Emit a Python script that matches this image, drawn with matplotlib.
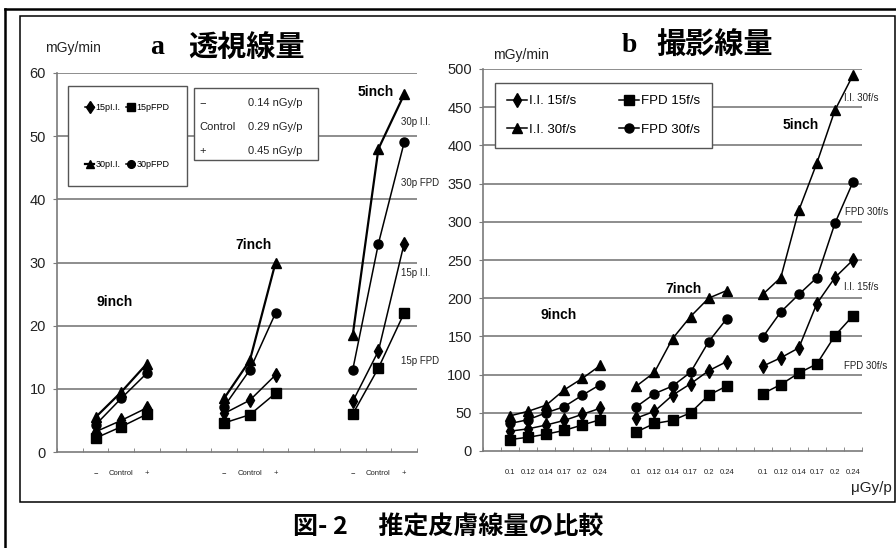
import matplotlib
matplotlib.use("Agg")
import matplotlib.pyplot as plt
from matplotlib import font_manager
from matplotlib.patches import Rectangle
from matplotlib.lines import Line2D

# ---------------- data ----------------
pa_groups = ['9inch', '7inch', '5inch']
pa_xlabels = ['−', 'Control', '+']
pa_15p_ii = [3.2, 5.0, 7.0, 6.1, 8.2, 12.2, 8.0, 16.0, 33.0]
pa_15p_fpd = [2.2, 4.0, 6.0, 4.6, 5.9, 9.3, 6.0, 13.3, 22.0]
pa_30p_ii = [5.5, 9.5, 14.0, 8.5, 14.5, 30.0, 18.5, 48.0, 56.6]
pa_30p_fpd = [4.3, 8.5, 12.5, 7.2, 13.0, 22.0, 13.0, 33.0, 49.0]
pa_yticks = [0, 10, 20, 30, 40, 50, 60]

pb_groups = ['9inch', '7inch', '5inch']
pb_xlabels = ['0.1', '0.12', '0.14', '0.17', '0.2', '0.24']
pb_ii15 = [26, 29, 34, 40, 48, 56, 43, 52, 73, 88, 105, 117, 111, 122, 135, 193, 227, 250]
pb_fpd15 = [15, 18, 22, 27, 34, 41, 25, 36, 40, 50, 73, 85, 75, 87, 102, 114, 151, 177]
pb_ii30 = [46, 52, 60, 80, 95, 112, 85, 103, 147, 176, 200, 210, 205, 227, 315, 377, 446, 492]
pb_fpd30 = [36, 41, 50, 58, 73, 87, 58, 75, 85, 103, 143, 173, 149, 182, 205, 227, 298, 352]
pb_yticks = [0, 50, 100, 150, 200, 250, 300, 350, 400, 450, 500]

# ---------------- fonts ----------------
names = {f.name for f in font_manager.fontManager.ttflist}
NARROW = 'Liberation Sans Narrow' if 'Liberation Sans Narrow' in names else 'Liberation Sans'
SANS = 'Liberation Sans'
CJK = ['Noto Sans CJK JP', 'DejaVu Sans']

W, H = 896, 548
fig = plt.figure(figsize=(W / 100, H / 100), dpi=100)
fig.patch.set_facecolor('white')


def fx(px):
    return px / W


def fy(py):
    return 1 - py / H


def make_axes(l, r, t, b):
    return fig.add_axes([fx(l), fy(b), fx(r) - fx(l), fy(t) - fy(b)])


GRID = '#7a7a7a'
TXT = '#222222'


def style_axes(ax, ncat, positions, labels, yticks, ymax):
    ax.set_xlim(-0.5, ncat - 0.5)
    ax.set_ylim(0, ymax)
    for s in ['top', 'right']:
        ax.spines[s].set_visible(False)
    for s in ['left', 'bottom']:
        ax.spines[s].set_color(GRID)
        ax.spines[s].set_linewidth(1.2)
    ax.set_yticks(yticks)
    ax.set_yticklabels([str(v) for v in yticks], fontfamily=NARROW, fontsize=10.5, color=TXT)
    ax.tick_params(axis='y', direction='out', length=3, color=GRID, pad=5)
    for v in yticks[1:]:
        ax.axhline(v, color=GRID, lw=1.2, zorder=1)
    ax.set_xticks(positions)
    ax.set_xticklabels(labels, fontfamily=NARROW, fontsize=5.5, color=TXT)
    ax.tick_params(axis='x', which='major', length=0, pad=13)
    ax.set_xticks([i - 0.5 for i in range(ncat + 1)], minor=True)
    ax.tick_params(axis='x', which='minor', direction='in', length=3, color=GRID)


# ---------------- frames ----------------
fig.add_artist(Line2D([fx(5), fx(5)], [fy(9), 0], color='black', lw=1.8))
fig.add_artist(Line2D([fx(5), 1], [fy(9), fy(9)], color='black', lw=1.8))
fig.add_artist(Rectangle((fx(20), fy(502)), fx(895) - fx(20), fy(16) - fy(502),
                         fill=False, edgecolor='black', lw=1.1))

# ---------------- panel a ----------------
axa = make_axes(57, 417, 73, 452)
pa_pos = [g * 5 + 1 + k for g in range(len(pa_groups)) for k in range(len(pa_xlabels))]
style_axes(axa, 14, pa_pos, pa_xlabels * len(pa_groups), pa_yticks, 60)

series_a = [
    (pa_15p_ii, 'd', '15pI.I.', 1.1),
    (pa_30p_ii, '^', '30pI.I.', 1.6),
    (pa_15p_fpd, 's', '15pFPD', 1.1),
    (pa_30p_fpd, 'o', '30pFPD', 1.1),
]
handles_a = []
for vals, mk, lab, lw in series_a:
    h = None
    for g in range(len(pa_groups)):
        sl = slice(g * 3, g * 3 + 3)
        h, = axa.plot(pa_pos[sl], vals[sl], color='black', marker=mk, ms=6.5 if mk != 'd' else 7,
                      lw=lw, zorder=3, label=lab)
    handles_a.append(h)

leg = axa.legend(handles=handles_a, ncol=2, loc='upper left', bbox_to_anchor=(0.031, 0.966),
                 frameon=True, fancybox=False, edgecolor='#555555', framealpha=1,
                 prop={'family': NARROW, 'size': 6.5}, handlelength=1.0, handletextpad=0.15,
                 labelspacing=5.3, borderpad=1.9, columnspacing=0.6, borderaxespad=0,
                 markerscale=0.85)
leg.get_frame().set_linewidth(1.0)
leg.set_zorder(5)

axa.add_patch(Rectangle((0.381, 0.770), 0.344, 0.190, transform=axa.transAxes,
                        facecolor='white', edgecolor='#555555', lw=1.0, zorder=5))
ctrl_left = ['−', 'Control', '+']
ctrl_right = ['0.14 nGy/p', '0.29 nGy/p', '0.45 nGy/p']
for i, (lt, rt) in enumerate(zip(ctrl_left, ctrl_right)):
    yy = (452 - (103 + 24 * i)) / 379
    axa.text(0.395, yy, lt, transform=axa.transAxes, fontfamily=NARROW, fontsize=8,
             color=TXT, va='center', ha='left', zorder=6)
    axa.text(0.53, yy, rt, transform=axa.transAxes, fontfamily=NARROW, fontsize=8,
             color=TXT, va='center', ha='left', zorder=6)

# annotations panel a (pixel positions)
fig.text(fx(115), fy(302), '9inch', fontfamily=SANS, fontweight='bold', fontsize=10,
         ha='center', va='center')
fig.text(fx(253), fy(245), '7inch', fontfamily=SANS, fontweight='bold', fontsize=10,
         ha='center', va='center')
fig.text(fx(376), fy(92), '5inch', fontfamily=SANS, fontweight='bold', fontsize=10,
         ha='center', va='center')
for txt, px, py in [('30p I.I.', 401, 122), ('30p FPD', 401, 183),
                    ('15p I.I.', 401, 273), ('15p FPD', 401, 361)]:
    fig.text(fx(px), fy(py), txt, fontfamily=NARROW, fontsize=7, ha='left', va='center',
             color=TXT)

fig.text(fx(45), fy(48), 'mGy/min', fontfamily=NARROW, fontsize=10, ha='left', va='center',
         color=TXT)
fig.text(fx(150), fy(47), 'a', fontfamily='Liberation Serif', fontweight='bold', fontsize=20,
         ha='left', va='center')
fig.text(fx(188), fy(47), '透視線量', fontfamily=CJK, fontweight='bold', fontsize=21,
         ha='left', va='center')

# ---------------- panel b ----------------
axb = make_axes(483, 862, 69, 451)
pb_pos = [g * 7 + 1 + k for g in range(len(pb_groups)) for k in range(len(pb_xlabels))]
style_axes(axb, 21, pb_pos, pb_xlabels * len(pb_groups), pb_yticks, 500)

series_b = [
    (pb_ii15, 'd', 'I.I. 15f/s'),
    (pb_ii30, '^', 'I.I. 30f/s'),
    (pb_fpd15, 's', 'FPD 15f/s'),
    (pb_fpd30, 'o', 'FPD 30f/s'),
]
handles_b = []
for vals, mk, lab in series_b:
    h = None
    for g in range(len(pb_groups)):
        sl = slice(g * 6, g * 6 + 6)
        h, = axb.plot(pb_pos[sl], vals[sl], color='black', marker=mk, ms=6.5 if mk != 'd' else 7,
                      lw=1.1, zorder=3, label=lab)
    handles_b.append(h)

legb = axb.legend(handles=handles_b, ncol=2, loc='upper left', bbox_to_anchor=(0.032, 0.963),
                  frameon=True, fancybox=False, edgecolor='#555555', framealpha=1,
                  prop={'family': NARROW, 'size': 9.5}, handlelength=1.5, handletextpad=0.2,
                  labelspacing=1.25, borderpad=0.9, columnspacing=3.2, borderaxespad=0)
legb.get_frame().set_linewidth(1.0)
legb.set_zorder(5)

fig.text(fx(559), fy(315), '9inch', fontfamily=SANS, fontweight='bold', fontsize=10,
         ha='center', va='center')
fig.text(fx(683), fy(289), '7inch', fontfamily=SANS, fontweight='bold', fontsize=10,
         ha='center', va='center')
fig.text(fx(801), fy(125), '5inch', fontfamily=SANS, fontweight='bold', fontsize=10,
         ha='center', va='center')
for txt, px, py in [('I.I. 30f/s', 844, 98), ('FPD 30f/s', 845, 212),
                    ('I.I. 15f/s', 844, 287), ('FPD 30f/s', 844, 366)]:
    fig.text(fx(px), fy(py), txt, fontfamily=NARROW, fontsize=7, ha='left', va='center',
             color=TXT)

fig.text(fx(493), fy(55), 'mGy/min', fontfamily=NARROW, fontsize=10, ha='left', va='center',
         color=TXT)
fig.text(fx(622), fy(45), 'b', fontfamily='Liberation Serif', fontweight='bold', fontsize=20,
         ha='left', va='center')
fig.text(fx(656), fy(45), '撮影線量', fontfamily=CJK, fontweight='bold', fontsize=21,
         ha='left', va='center')
fig.text(fx(892), fy(488), 'μGy/p', fontfamily=SANS, fontsize=11, ha='right', va='center',
         color=TXT)

# ---------------- caption ----------------
fig.text(fx(448), fy(528), '図- 2　 推定皮膚線量の比較', fontfamily=CJK, fontweight='bold',
         fontsize=18, ha='center', va='center')

fig.savefig('out.png', dpi=100, facecolor='white')
